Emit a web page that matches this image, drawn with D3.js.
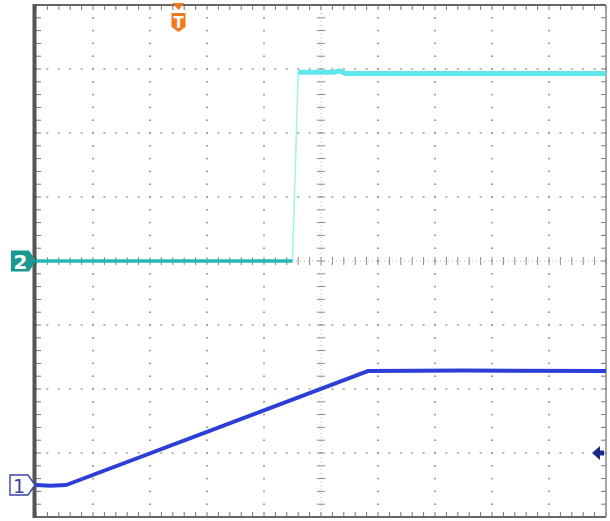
<!DOCTYPE html>
<html><head><meta charset="utf-8">
<script src="https://cdn.jsdelivr.net/npm/d3@7"></script>
<style>html,body{margin:0;padding:0;background:#fff;}svg{display:block;}</style>
</head><body>
<script>
// Data (in screen divisions: time -5..5, amplitude -4..4)
const ch1Time = [-5, -4.75, -4.47, 0.82, 2.5, 5];
const ch1Volt = [-3.5, -3.51, -3.5, -1.72, -1.71, -1.72];
const ch2Time = [-5, -0.5, -0.4, 0.22, 0.32, 0.45, 5];
const ch2Volt = [0, 0, 2.95, 2.95, 2.97, 2.93, 2.93];
const ch1Offset = -3.5;
const ch2Offset = 0;
const triggerTime = -2.5;
const triggerLevel = -3.0;
const ch1Label = "1", ch2Label = "2", trigLabel = "T";

const W = 610, H = 521;
const svg = d3.select("body").append("svg").attr("width", W).attr("height", H);
const x = d3.scaleLinear().domain([-5, 5]).range([36, 606]);
const y = d3.scaleLinear().domain([-4, 4]).range([517, 5]);

const g = svg.append("g");
const gridCol = "#9a9a9a";
const majX = d3.range(-5, 5.01, 1), majY = d3.range(-4, 4.01, 1);
const minX = d3.range(-5, 5.001, 0.2), minY = d3.range(-4, 4.001, 0.2);

// grid dots
majX.slice(1, -1).forEach(v => {
  if (v === 0) return;
  minY.forEach(t => g.append("rect").attr("x", x(v) - 1).attr("y", y(t) - 0.75).attr("width", 2).attr("height", 1.5).attr("fill", gridCol));
});
majY.slice(1, -1).forEach(v => {
  if (v === 0) return;
  minX.forEach(t => g.append("rect").attr("x", x(t) - 1).attr("y", y(v) - 0.75).attr("width", 2).attr("height", 1.5).attr("fill", gridCol));
});
// center crosshair with ticks
minY.forEach(t => g.append("line").attr("x1", x(0) - 4).attr("x2", x(0) + 4).attr("y1", y(t)).attr("y2", y(t)).attr("stroke", "#888").attr("stroke-width", 1));
minX.forEach(t => g.append("line").attr("y1", y(0) - 4).attr("y2", y(0) + 4).attr("x1", x(t)).attr("x2", x(t)).attr("stroke", "#888").attr("stroke-width", 1));
g.append("line").attr("x1", x(0)).attr("x2", x(0)).attr("y1", y(4)).attr("y2", y(-4)).attr("stroke", "#bbb").attr("stroke-width", 1).attr("stroke-dasharray", "1,3");
g.append("line").attr("x1", x(-5)).attr("x2", x(5)).attr("y1", y(0)).attr("y2", y(0)).attr("stroke", "#bbb").attr("stroke-width", 1).attr("stroke-dasharray", "1,3");

// border ticks
minX.forEach(t => {
  g.append("line").attr("x1", x(t)).attr("x2", x(t)).attr("y1", y(4)).attr("y2", y(4) + 5).attr("stroke", "#777");
  g.append("line").attr("x1", x(t)).attr("x2", x(t)).attr("y1", y(-4)).attr("y2", y(-4) - 5).attr("stroke", "#777");
});
minY.forEach(t => {
  g.append("line").attr("x1", x(-5)).attr("x2", x(-5) + 5).attr("y1", y(t)).attr("y2", y(t)).attr("stroke", "#777");
  g.append("line").attr("x1", x(5)).attr("x2", x(5) - 5).attr("y1", y(t)).attr("y2", y(t)).attr("stroke", "#777");
});
// borders
g.append("line").attr("x1", x(-5)).attr("x2", x(5)).attr("y1", y(4)).attr("y2", y(4)).attr("stroke", "#666").attr("stroke-width", 2);
g.append("line").attr("x1", x(-5)).attr("x2", x(5)).attr("y1", y(-4)).attr("y2", y(-4)).attr("stroke", "#666").attr("stroke-width", 2);
g.append("line").attr("x1", x(5)).attr("x2", x(5)).attr("y1", y(4)).attr("y2", y(-4)).attr("stroke", "#888").attr("stroke-width", 1.5);
g.append("line").attr("x1", x(-5) - 1.5).attr("x2", x(-5) - 1.5).attr("y1", y(4) - 1).attr("y2", y(-4) + 1).attr("stroke", "#555").attr("stroke-width", 4);

// traces
const line = d3.line().x(d => x(d[0])).y(d => y(d[1])).curve(d3.curveMonotoneX);
const lineL = d3.line().x(d => x(d[0])).y(d => y(d[1]));
const ch2 = ch2Time.map((t, i) => [t, ch2Volt[i]]);
const ch1 = ch1Time.map((t, i) => [t, ch1Volt[i]]);
svg.append("path").datum(ch2.slice(1, 3)).attr("d", lineL).attr("fill", "none").attr("stroke", "#a8f2f4").attr("stroke-width", 1.6);
svg.append("path").datum(ch2.slice(0, 2)).attr("d", lineL).attr("fill", "none").attr("stroke", "#22b8b8").attr("stroke-width", 3.5);
svg.append("path").datum(ch2.slice(2)).attr("d", line).attr("fill", "none").attr("stroke", "#5fe6ea").attr("stroke-width", 5);
svg.append("path").datum(ch1).attr("d", lineL).attr("fill", "none").attr("stroke", "#2b3fd6").attr("stroke-width", 4).attr("stroke-linejoin", "round");

// ch2 marker
const m2y = y(ch2Offset);
svg.append("path").attr("d", `M11,${m2y - 10.5} H29 L36,${m2y} L29,${m2y + 10.5} H11 Z`).attr("fill", "#1a9990");
svg.append("text").attr("x", 20.5).attr("y", m2y + 7.5).attr("text-anchor", "middle").attr("fill", "#fff")
  .attr("font-family", "DejaVu Sans, sans-serif").attr("font-weight", "bold").attr("font-size", 20).text(ch2Label);
// ch1 marker
const m1y = y(ch1Offset);
svg.append("path").attr("d", `M10,${m1y - 10} H28 L35,${m1y} L28,${m1y + 10} H10 Z`).attr("fill", "#fff").attr("stroke", "#3a43b0").attr("stroke-width", 1.4);
svg.append("text").attr("x", 19).attr("y", m1y + 7.5).attr("text-anchor", "middle").attr("fill", "#3a43b0")
  .attr("font-family", "DejaVu Sans, sans-serif").attr("font-size", 19).text(ch1Label);
// trigger position marker
const tx = x(triggerTime);
svg.append("path").attr("d", `M${tx - 6},3 L${tx + 6},3 L${tx},10 Z`).attr("fill", "#f07a1e");
svg.append("path").attr("d", `M${tx - 7},13 H${tx + 7} V27 L${tx},32 L${tx - 7},27 Z`).attr("fill", "#f07a1e");
svg.append("text").attr("x", tx).attr("y", 28).attr("text-anchor", "middle").attr("fill", "#fff")
  .attr("font-family", "DejaVu Sans, sans-serif").attr("font-weight", "bold").attr("font-size", 15).text(trigLabel);
// trigger level arrow on right
const ly = y(triggerLevel);
svg.append("path").attr("d", `M592,${ly} L600,${ly - 7} V${ly - 2.5} H604 V${ly + 2.5} H600 V${ly + 7} Z`).attr("fill", "#1c2a8a");
</script>
</body></html>
